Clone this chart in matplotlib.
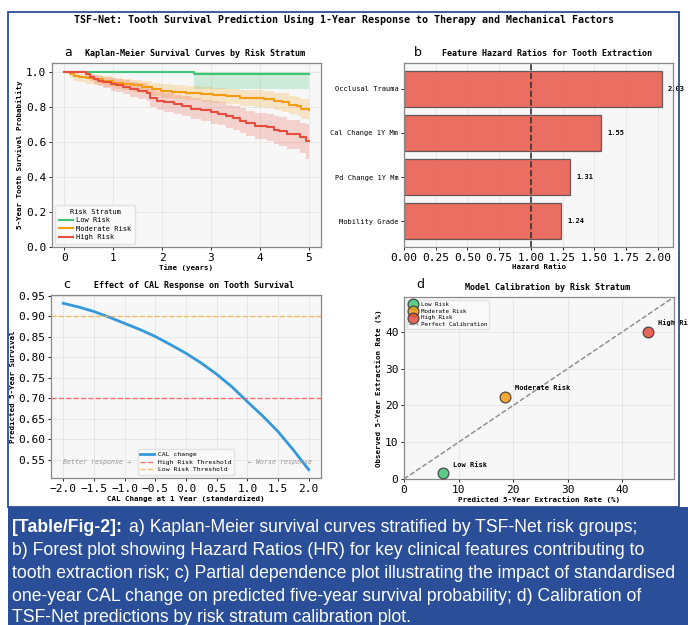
import matplotlib
matplotlib.use("Agg")
import matplotlib.pyplot as plt
from matplotlib.patches import Rectangle
import numpy as np

W, H = 688, 625
MONO = "DejaVu Sans Mono"
plt.rcParams['font.family'] = MONO

# ---------------- data ----------------
# Panel a: Kaplan-Meier step data
low_t = [0, 2.65, 5.0]
low_s = [1.0, 0.985, 0.985]
low_lo = [1.0, 0.90, 0.90]
low_hi = [1.0, 0.998, 0.998]

mod_t = [0, 0.12, 0.2, 0.3, 0.45, 0.6, 0.8, 1.0, 1.2, 1.4, 1.6, 1.8, 1.97, 2.2, 2.5,
         2.8, 3.05, 3.3, 3.6, 3.9, 4.08, 4.28, 4.45, 4.6, 4.75, 4.85, 5.0]
mod_s = [1.0, 0.985, 0.975, 0.968, 0.962, 0.956, 0.947, 0.937, 0.93, 0.922, 0.915, 0.9,
         0.889, 0.884, 0.88, 0.873, 0.866, 0.86, 0.851, 0.848, 0.845, 0.832, 0.825,
         0.812, 0.803, 0.79, 0.78]
mod_lo = [1.0, 0.965, 0.95, 0.94, 0.932, 0.925, 0.914, 0.902, 0.894, 0.885, 0.877, 0.861,
          0.849, 0.843, 0.838, 0.83, 0.822, 0.815, 0.805, 0.8, 0.796, 0.782, 0.773,
          0.758, 0.748, 0.733, 0.72]
mod_hi = [1.0, 0.995, 0.992, 0.988, 0.984, 0.98, 0.973, 0.966, 0.961, 0.955, 0.95, 0.937,
          0.928, 0.924, 0.921, 0.915, 0.909, 0.904, 0.896, 0.894, 0.892, 0.881, 0.876,
          0.864, 0.857, 0.845, 0.835]

high_t = [0, 0.44, 0.52, 0.6, 0.7, 0.8, 0.95, 1.05, 1.2, 1.35, 1.5, 1.69, 1.75, 1.9, 2.05,
          2.25, 2.4, 2.6, 2.8, 3.0, 3.15, 3.3, 3.45, 3.6, 3.72, 3.9, 4.15, 4.28, 4.4,
          4.55, 4.82, 4.95, 5.0]
high_s = [1.0, 0.985, 0.97, 0.958, 0.948, 0.94, 0.93, 0.922, 0.912, 0.90, 0.89, 0.88, 0.85,
          0.835, 0.825, 0.815, 0.805, 0.79, 0.78, 0.768, 0.76, 0.745, 0.735, 0.72, 0.705,
          0.69, 0.685, 0.67, 0.66, 0.645, 0.625, 0.605, 0.605]
high_lo = [1.0, 0.965, 0.945, 0.93, 0.917, 0.906, 0.893, 0.883, 0.871, 0.856, 0.844, 0.832,
           0.799, 0.782, 0.77, 0.758, 0.746, 0.729, 0.717, 0.703, 0.694, 0.677, 0.665,
           0.648, 0.631, 0.614, 0.607, 0.59, 0.578, 0.561, 0.538, 0.505, 0.505]
high_hi = [1.0, 0.998, 0.99, 0.983, 0.976, 0.971, 0.964, 0.958, 0.951, 0.942, 0.934, 0.926,
           0.899, 0.886, 0.878, 0.87, 0.862, 0.849, 0.841, 0.831, 0.825, 0.812, 0.804,
           0.791, 0.778, 0.765, 0.761, 0.748, 0.74, 0.727, 0.709, 0.7, 0.7]

# Panel b: hazard ratios
features = ["Mobility Grade", "Pd Change 1Y Mm", "Cal Change 1Y Mm", "Occlusal Trauma"]
hazard_ratios = [1.24, 1.31, 1.55, 2.03]

# Panel c: partial dependence
cal_change = [-2.0, -1.75, -1.5, -1.25, -1.0, -0.75, -0.5, -0.25, 0.0, 0.25, 0.5, 0.75,
              1.0, 1.25, 1.5, 1.75, 2.0]
pred_survival = [0.932, 0.923, 0.912, 0.898, 0.883, 0.868, 0.851, 0.831, 0.810, 0.786,
                 0.759, 0.728, 0.692, 0.657, 0.619, 0.574, 0.526]
high_thr = 0.70
low_thr = 0.90

# Panel d: calibration
strata = ["Low Risk", "Moderate Risk", "High Risk"]
predicted_rate = [7.1, 18.5, 44.7]
observed_rate = [1.5, 22.4, 40.0]

C_LOW, C_MOD, C_HIGH = "#3fc474", "#f39c12", "#e74c3c"
BLUE = "#2a4f98"
AX_BG = "#f7f7f7"

fig = plt.figure(figsize=(W / 100, H / 100), dpi=100)
fig.patch.set_facecolor("white")


def px_axes(l, t, r, b):
    return fig.add_axes([l / W, 1 - b / H, (r - l) / W, (b - t) / H])


def style(ax):
    ax.set_facecolor(AX_BG)
    for s in ax.spines.values():
        s.set_color("#888888")
        s.set_linewidth(0.9)
    ax.tick_params(labelsize=8, length=2.5, width=0.6, pad=1.5)
    ax.grid(True, color="#e0e0e0", linewidth=0.6, alpha=0.8)
    ax.set_axisbelow(True)


TFS = 6.0
LFS = 5.4

# ---------- a ----------
axa = px_axes(52, 63, 321, 247)
style(axa)
for t, s, lo, hi, c, lab in [(low_t, low_s, low_lo, low_hi, C_LOW, "Low Risk"),
                             (mod_t, mod_s, mod_lo, mod_hi, C_MOD, "Moderate Risk"),
                             (high_t, high_s, high_lo, high_hi, C_HIGH, "High Risk")]:
    axa.fill_between(t, lo, hi, step="post", color=c, alpha=0.22, linewidth=0)
    axa.step(t, s, where="post", color=c, linewidth=1.5, label=lab)
axa.set_ylim(0, 1.05)
axa.set_xlim(-0.25, 5.25)
axa.set_xticks([0, 1, 2, 3, 4, 5])
axa.set_xlabel("Time (years)", fontsize=LFS, fontweight="bold", labelpad=1)
axa.set_ylabel("5-Year Tooth Survival Probability", fontsize=LFS, fontweight="bold", labelpad=2)
axa.set_title("Kaplan-Meier Survival Curves by Risk Stratum", fontsize=TFS,
              fontweight="bold", x=0.53, pad=5)
leg = axa.legend(title="Risk Stratum", loc="lower left", fontsize=5.0, title_fontsize=5.0,
                 frameon=True, handlelength=2.0, borderpad=0.5, labelspacing=0.35,
                 handletextpad=0.5)
leg.get_frame().set_edgecolor("#dddddd")
leg.get_frame().set_facecolor("#fafafa")

# ---------- b ----------
axb = px_axes(404, 63, 673, 247)
style(axb)
axb.grid(False)
axb.grid(True, axis="x", color="#e0e0e0", linewidth=0.6, alpha=0.8)
ypos = np.arange(len(features))
axb.barh(ypos, hazard_ratios, height=0.8, color=C_HIGH, alpha=0.8,
         edgecolor="#444444", linewidth=0.9)
axb.axvline(1.0, color="#333333", linestyle="--", linewidth=1.2)
for y, v in zip(ypos, hazard_ratios):
    axb.text(v + 0.05, y, f"{v:.2f}", va="center", ha="left", fontsize=5,
             fontweight="bold", clip_on=False)
axb.set_yticks(ypos)
axb.set_yticklabels(features, fontsize=5)
axb.set_xlim(0, 2.12)
axb.set_xticks([0, 0.25, 0.5, 0.75, 1.0, 1.25, 1.5, 1.75, 2.0])
axb.set_xticklabels([f"{v:.2f}" for v in [0, 0.25, 0.5, 0.75, 1.0, 1.25, 1.5, 1.75, 2.0]])
axb.set_xlabel("Hazard Ratio", fontsize=LFS, fontweight="bold", labelpad=1)
axb.set_title("Feature Hazard Ratios for Tooth Extraction", fontsize=TFS,
              fontweight="bold", x=0.53, pad=5)

# ---------- c ----------
axc = px_axes(51, 295, 321, 478)
style(axc)
axc.plot(cal_change, pred_survival, color="#3498db", linewidth=2, label="CAL change")
axc.axhline(high_thr, color="#ff4d4d", linestyle="--", linewidth=1, alpha=0.8,
            label="High Risk Threshold")
axc.axhline(low_thr, color="#f5b041", linestyle="--", linewidth=1, alpha=0.8,
            label="Low Risk Threshold")
axc.set_yticks([0.55, 0.60, 0.65, 0.70, 0.75, 0.80, 0.85, 0.90, 0.95])
axc.set_yticklabels([f"{v:.2f}" for v in [0.55, 0.60, 0.65, 0.70, 0.75, 0.80, 0.85, 0.90, 0.95]])
axc.set_xticks([-2.0, -1.5, -1.0, -0.5, 0.0, 0.5, 1.0, 1.5, 2.0])
axc.set_xticklabels([f"{v:.1f}".replace("-", "\u2212") for v in
                     [-2.0, -1.5, -1.0, -0.5, 0.0, 0.5, 1.0, 1.5, 2.0]])
axc.set_xlabel("CAL Change at 1 Year (standardized)", fontsize=LFS, fontweight="bold", labelpad=1)
axc.set_ylabel("Predicted 5-Year Survival", fontsize=LFS, fontweight="bold", labelpad=2)
axc.set_title("Effect of CAL Response on Tooth Survival", fontsize=TFS,
              fontweight="bold", x=0.53, pad=5)
axc.text(-2.0, 0.544, "Better response \u2192", fontsize=4.8, style="italic",
         color="#999999", va="center", ha="left")
axc.text(2.05, 0.544, "\u2190 Worse response", fontsize=4.8, style="italic",
         color="#999999", va="center", ha="right")
legc = axc.legend(loc="lower center", fontsize=4.6, frameon=True, handlelength=2.2,
                  borderpad=0.4, labelspacing=0.3, handletextpad=0.6)
legc.get_frame().set_edgecolor("#dddddd")
legc.get_frame().set_facecolor("#fafafa")

# ---------- d ----------
axd = px_axes(404, 297, 674, 479)
style(axd)
mx = 49.5
axd.plot([0, mx], [0, mx], color="#888888", linestyle="--", linewidth=1,
         label="Perfect Calibration", zorder=2)
for pr, ob, c, lab in zip(predicted_rate, observed_rate, [C_LOW, C_MOD, C_HIGH], strata):
    axd.scatter(pr, ob, s=60, color=c, edgecolor="#333333", linewidth=0.9, alpha=0.85,
                label=lab, zorder=3)
    axd.annotate(lab, (pr, ob), xytext=(7.5, 5), textcoords="offset points",
                 fontsize=5, fontweight="bold", annotation_clip=False)
axd.set_xlim(0, mx)
axd.set_ylim(0, mx)
axd.set_xticks([0, 10, 20, 30, 40])
axd.set_yticks([0, 10, 20, 30, 40])
axd.set_xlabel("Predicted 5-Year Extraction Rate (%)", fontsize=LFS, fontweight="bold", labelpad=1)
axd.set_ylabel("Observed 5-Year Extraction Rate (%)", fontsize=LFS, fontweight="bold", labelpad=2)
axd.set_title("Model Calibration by Risk Stratum", fontsize=TFS,
              fontweight="bold", x=0.53, pad=5)
h, l = axd.get_legend_handles_labels()
order = [1, 2, 3, 0]
legd = axd.legend([h[i] for i in order], [l[i] for i in order], loc="upper left",
                  fontsize=4.2, frameon=True, borderpad=0.3, labelspacing=0.3,
                  handlelength=1.6, markerscale=1.0, handletextpad=0.5)
legd.get_frame().set_edgecolor("#dddddd")
legd.get_frame().set_facecolor("#fafafa")

# ---------- figure decorations ----------
fig.text(344 / W, 1 - 20 / H,
         "TSF-Net: Tooth Survival Prediction Using 1-Year Response to Therapy and Mechanical Factors",
         ha="center", va="center", fontsize=7.2, fontweight="bold")
for lt, x, y in [("a", 68, 53), ("b", 418, 52), ("c", 67, 285), ("d", 420, 284)]:
    fig.text(x / W, 1 - y / H, lt, ha="center", va="center", fontsize=9,
             family="DejaVu Sans")

# frame and caption box
fig.patches.append(Rectangle((8 / W, 1 - 507 / H), (W - 9) / W - 8 / W, (507 - 12) / H,
                             transform=fig.transFigure, fill=False, edgecolor=BLUE,
                             linewidth=1.3, zorder=0))
fig.patches.append(Rectangle((8 / W, 0), 1 - 8 / W, 1 - 507 / H - 0.0,
                             transform=fig.transFigure, facecolor=BLUE, edgecolor="none",
                             zorder=0))

CAP = ["Liberation Sans Narrow", "Liberation Sans"]
CFS = 12.7
lines = [
    "b) Forest plot showing Hazard Ratios (HR) for key clinical features contributing to",
    "tooth extraction risk; c) Partial dependence plot illustrating the impact of standardised",
    "one-year CAL change on predicted five-year survival probability; d) Calibration of",
    "TSF-Net predictions by risk stratum calibration plot.",
]
base_y = [532, 555, 578, 601, 622]
t0 = fig.text(12 / W, 1 - base_y[0] / H, "[Table/Fig-2]:", ha="left", va="baseline",
              fontsize=CFS, fontweight="bold", color="white", family=CAP)
r = fig.canvas.get_renderer()
bb = t0.get_window_extent(renderer=r)
fig.text((bb.x1 + 7) / W, 1 - base_y[0] / H,
         "a) Kaplan-Meier survival curves stratified by TSF-Net risk groups;",
         ha="left", va="baseline", fontsize=CFS, color="white", family=CAP)
for s, y in zip(lines, base_y[1:]):
    fig.text(12 / W, 1 - y / H, s, ha="left", va="baseline", fontsize=CFS,
             color="white", family=CAP)

fig.savefig("out.png", dpi=100, facecolor=fig.get_facecolor())
